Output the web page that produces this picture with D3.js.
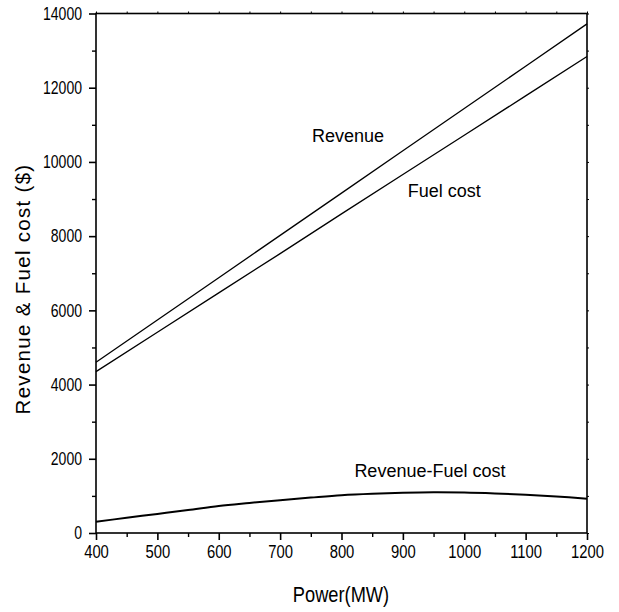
<!DOCTYPE html>
<html>
<head>
<meta charset="utf-8">
<script src="https://cdn.jsdelivr.net/npm/d3@7"></script>
<style>
  html, body { margin: 0; padding: 0; background: #fff; }
  svg { display: block; }
  text { font-family: "Liberation Sans", Arial, sans-serif; }
</style>
</head>
<body>
<svg id="chart" width="619" height="612"></svg>
<script>
// ---- data ----
const power = [400, 500, 600, 700, 800, 900, 1000, 1100, 1200];
const revenue = [4600, 5740, 6880, 8020, 9160, 10300, 11440, 12580, 13720];
const fuelCost = [4350, 5410, 6470, 7530, 8600, 9660, 10720, 11780, 12840];
const powerDiff = [400, 450, 500, 550, 600, 650, 700, 750, 800, 850, 900, 950, 1000, 1050, 1100, 1150, 1200];
const revenueMinusFuel = [305, 410, 515, 620, 730, 810, 885, 955, 1020, 1060, 1085, 1097, 1090, 1065, 1030, 985, 925];
const xTicks = [400, 500, 600, 700, 800, 900, 1000, 1100, 1200];
const yTicks = [0, 2000, 4000, 6000, 8000, 10000, 12000, 14000];
const labels = [
  { text: "Revenue", x: 752, y: 10550 },
  { text: "Fuel cost", x: 908, y: 9065 },
  { text: "Revenue-Fuel cost", x: 821, y: 1500 }
];

const svg = d3.select("#chart");
const L = 96, R = 587, T = 13.5, B = 533;
const x = d3.scaleLinear().domain([400, 1200]).range([L, R]);
const y = d3.scaleLinear().domain([0, 14000]).range([B, T]);
const NARROW = 0.78;

const xMinor = d3.range(450, 1200, 100);
const yMinor = d3.range(1000, 14000, 2000);

// frame
svg.append("rect").attr("x", L).attr("y", T).attr("width", R - L).attr("height", B - T)
  .attr("fill", "none").attr("stroke", "#000").attr("stroke-width", 1.6);

// bottom axis
const gx = svg.append("g").attr("transform", `translate(0,${B})`)
  .call(d3.axisBottom(x).tickValues(xTicks).tickFormat(d3.format("d")).tickSize(7).tickPadding(5));
gx.select(".domain").remove();
gx.selectAll("line").attr("stroke-width", 1.6);
gx.selectAll("text").attr("font-size", 19).attr("fill", "#000")
  .attr("font-family", "Liberation Sans, Arial, sans-serif")
  .attr("transform", `scale(${NARROW},1)`);
svg.append("g").attr("transform", `translate(0,${B})`)
  .call(d3.axisBottom(x).tickValues(xMinor).tickFormat("").tickSize(4))
  .call(g => g.select(".domain").remove())
  .selectAll("line").attr("stroke-width", 1.4);

// left axis
const gy = svg.append("g").attr("transform", `translate(${L},0)`)
  .call(d3.axisLeft(y).tickValues(yTicks).tickFormat(d3.format("d")).tickSize(7).tickPadding(7));
gy.select(".domain").remove();
gy.selectAll("line").attr("stroke-width", 1.6);
gy.selectAll("text").attr("font-size", 18).attr("fill", "#000")
  .attr("font-family", "Liberation Sans, Arial, sans-serif")
  .attr("x", -14 / NARROW)
  .attr("transform", `scale(${NARROW},1)`);
svg.append("g").attr("transform", `translate(${L},0)`)
  .call(d3.axisLeft(y).tickValues(yMinor).tickFormat("").tickSize(4))
  .call(g => g.select(".domain").remove())
  .selectAll("line").attr("stroke-width", 1.4);

// top & right small ticks
svg.append("g").attr("transform", `translate(0,${T})`)
  .call(d3.axisTop(x).tickValues(xTicks.concat(xMinor)).tickFormat("").tickSize(2))
  .call(g => g.select(".domain").remove())
  .selectAll("line").attr("stroke-width", 1);
svg.append("g").attr("transform", `translate(${R},0)`)
  .call(d3.axisRight(y).tickValues(yTicks.concat(yMinor)).tickFormat("").tickSize(2))
  .call(g => g.select(".domain").remove())
  .selectAll("line").attr("stroke-width", 1);

// lines
const line = d3.line().x(d => x(d[0])).y(d => y(d[1]));
svg.append("path").datum(power.map((p, i) => [p, revenue[i]]))
  .attr("d", line).attr("fill", "none").attr("stroke", "#000").attr("stroke-width", 1.3);
svg.append("path").datum(power.map((p, i) => [p, fuelCost[i]]))
  .attr("d", line).attr("fill", "none").attr("stroke", "#000").attr("stroke-width", 1.3);
svg.append("path").datum(powerDiff.map((p, i) => [p, revenueMinusFuel[i]]))
  .attr("d", line.curve(d3.curveCatmullRom)).attr("fill", "none").attr("stroke", "#000").attr("stroke-width", 2);

// annotations
svg.selectAll("text.ann").data(labels).enter().append("text")
  .attr("class", "ann").attr("x", d => x(d.x)).attr("y", d => y(d.y))
  .attr("font-size", 18).attr("fill", "#000").text(d => d.text);

// axis titles
svg.append("text")
  .attr("transform", `translate(341,602) scale(0.83,1)`)
  .attr("text-anchor", "middle").attr("font-size", 22).attr("fill", "#000").text("Power(MW)");
svg.append("text")
  .attr("transform", "translate(30,289) rotate(-90)")
  .attr("text-anchor", "middle").attr("font-size", 20.5).attr("letter-spacing", 1.3)
  .attr("fill", "#000").text("Revenue & Fuel cost ($)");
</script>
</body>
</html>
